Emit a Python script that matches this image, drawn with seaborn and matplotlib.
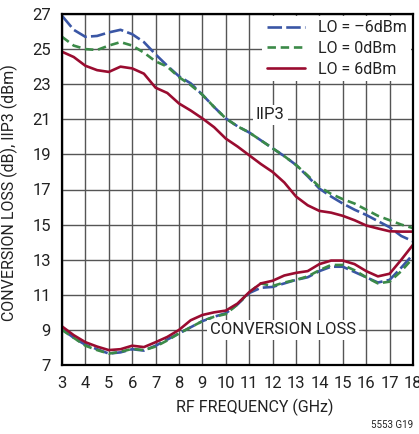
import numpy as np
import pandas as pd
import matplotlib
matplotlib.use("Agg")
import matplotlib.pyplot as plt
import seaborn as sns

# RF frequency grid (GHz)
freq = [3.0, 3.5, 4.0, 4.5, 5.0, 5.5, 6.0, 6.5, 7.0, 7.5, 8.0, 8.5, 9.0, 9.5, 10.0, 10.5,
        11.0, 11.5, 12.0, 12.5, 13.0, 13.5, 14.0, 14.5, 15.0, 15.5, 16.0, 16.5, 17.0, 17.5, 18.0]

# IIP3 (dBm)
iip3_m6 = [26.9, 26.1, 25.7, 25.75, 25.95, 26.1, 25.85, 25.4, 24.7, 24.05, 23.45, 23.05, 22.4, 21.7,
           21.05, 20.6, 20.25, 19.8, 19.35, 18.9, 18.4, 17.75, 17.05, 16.6, 16.2, 15.85, 15.55, 15.2,
           14.85, 14.35, 14.05]
iip3_0 = [25.7, 25.2, 25.0, 24.95, 25.2, 25.4, 25.2, 24.8, 24.3, 24.0, 23.4, 22.95, 22.4, 21.7,
          21.05, 20.6, 20.25, 19.8, 19.35, 18.9, 18.4, 17.8, 17.15, 16.75, 16.45, 16.2, 15.85, 15.5,
          15.25, 15.0, 14.8]
iip3_6 = [24.85, 24.55, 24.05, 23.8, 23.7, 24.0, 23.9, 23.6, 22.8, 22.5, 21.9, 21.5, 21.05, 20.55,
          19.9, 19.45, 18.95, 18.45, 18.0, 17.4, 16.6, 16.1, 15.78, 15.68, 15.5, 15.25, 14.95, 14.78,
          14.62, 14.6, 14.6]

# conversion loss (dB)
cl_m6 = [9.05, 8.55, 8.15, 7.9, 7.65, 7.72, 7.9, 7.82, 8.1, 8.45, 8.8, 9.15, 9.5, 9.75, 9.95, 10.45,
         11.1, 11.4, 11.45, 11.65, 11.85, 12.0, 12.35, 12.6, 12.6, 12.3, 12.0, 11.7, 11.85, 12.55, 13.3]
cl_0 = [9.0, 8.55, 8.1, 7.85, 7.65, 7.75, 7.92, 7.85, 8.05, 8.4, 8.8, 9.15, 9.5, 9.75, 9.9, 10.45,
        11.15, 11.65, 11.5, 11.7, 11.85, 12.05, 12.4, 12.7, 12.7, 12.4, 12.0, 11.65, 11.75, 12.35, 13.1]
cl_6 = [9.2, 8.7, 8.3, 8.05, 7.85, 7.9, 8.1, 8.02, 8.3, 8.6, 9.0, 9.55, 9.85, 10.0, 10.1, 10.5,
        11.15, 11.65, 11.8, 12.1, 12.25, 12.35, 12.75, 12.95, 12.95, 12.75, 12.35, 12.05, 12.2, 13.0, 13.85]

lo_labels = ["LO = \u20136dBm", "LO = 0dBm", "LO = 6dBm"]
colors = {lo_labels[0]: "#3a56a5", lo_labels[1]: "#3b8a48", lo_labels[2]: "#9a0c30"}
dash_map = {lo_labels[0]: (5.5, 1.6), lo_labels[1]: (3.2, 1.8), lo_labels[2]: ""}

rows = []
for lo, iip3, cl in zip(lo_labels, [iip3_m6, iip3_0, iip3_6], [cl_m6, cl_0, cl_6]):
    for f, v in zip(freq, iip3):
        rows.append((f, v, lo, lo + " iip3"))
    for f, v in zip(freq, cl):
        rows.append((f, v, lo, lo + " cl"))
df = pd.DataFrame(rows, columns=["freq", "value", "lo", "curve"])

sns.set_theme(style="white")
plt.rcParams["font.family"] = ["Roboto", "DejaVu Sans"]

fig = plt.figure(figsize=(4.19, 4.34), dpi=100)
ax = fig.add_axes([62 / 419, 1 - 365 / 434, 351 / 419, 351 / 434])

sns.lineplot(
    data=df, x="freq", y="value", hue="lo", style="lo", units="curve",
    estimator=None, palette=colors, dashes=dash_map, hue_order=lo_labels,
    style_order=lo_labels, linewidth=1.9, sort=False, ax=ax,
)

ax.set_xlim(3, 18)
ax.set_ylim(7, 27)
ax.set_xticks(range(3, 19))
ax.set_yticks(range(7, 28, 2))
ax.grid(True, color="#555555", linewidth=1.0)
ax.set_axisbelow(True)
for s in ax.spines.values():
    s.set_color("black")
    s.set_linewidth(1.6)
ax.tick_params(axis="both", length=0, labelsize=12, pad=8, colors="#222222")

ax.set_xlabel("RF FREQUENCY (GHz)", fontsize=11.5, color="#222222")
ax.xaxis.set_label_coords(0.55, -0.095)
ax.set_ylabel("CONVERSION LOSS (dB), IIP3 (dBm)", fontsize=11.5, color="#222222")
ax.yaxis.set_label_coords(-0.125, 0.49)

ax.text(11.9, 21.25, "IIP3", fontsize=12, color="#222222", ha="center", va="center",
        bbox=dict(facecolor="white", edgecolor="none", pad=2))
ax.text(12.45, 9.0, "CONVERSION LOSS", fontsize=12, color="#222222", ha="center", va="center",
        bbox=dict(facecolor="white", edgecolor="none", pad=2))

leg = ax.legend(loc="upper right", fontsize=11.5, frameon=True, fancybox=False, framealpha=1,
                edgecolor="white", borderaxespad=0.1, handlelength=2.4, labelspacing=0.35,
                borderpad=0.3, title=None)
leg.get_frame().set_linewidth(0)
for t in leg.get_texts():
    t.set_color("#222222")

fig.text(413 / 419, 1 - 425 / 434, "5553 G19", fontsize=7, ha="right", va="center", color="#222222")

fig.savefig("out.png", dpi=100)
